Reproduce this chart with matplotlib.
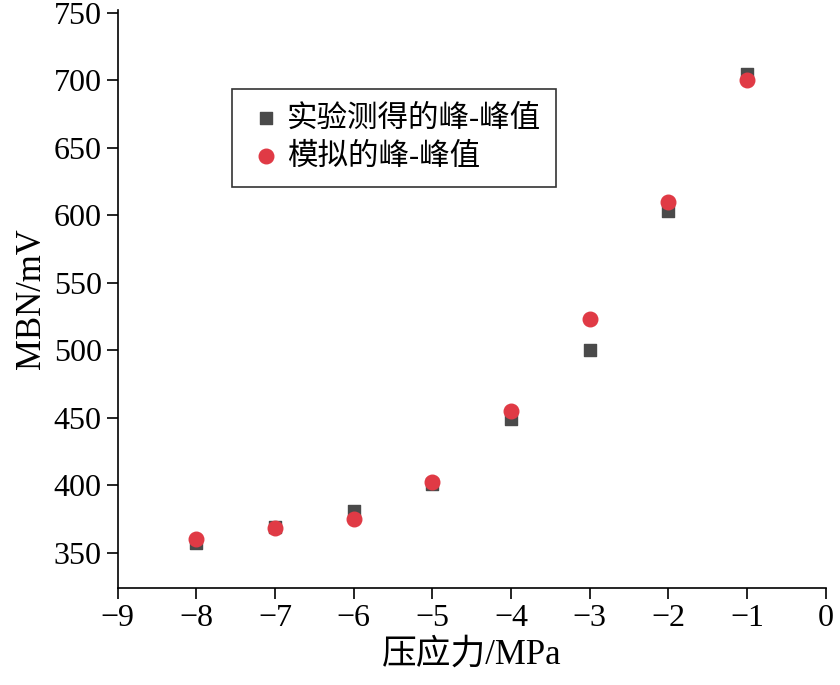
import matplotlib
matplotlib.use("Agg")
import matplotlib.pyplot as plt

plt.rcParams["font.family"] = ["Liberation Serif", "Noto Sans CJK SC"]

# data
pressure = [-8, -7, -6, -5, -4, -3, -2, -1]
measured = [357, 369, 381, 401, 449, 500, 603, 705]
simulated = [360, 368, 375, 402, 455, 523, 610, 700]

fig = plt.figure(figsize=(8.4, 6.85), dpi=100)
ax = fig.add_axes([0.140, 0.142, 0.843, 0.843])

ax.scatter(pressure, measured, marker="s", s=80, color="#4a4a4a", label="实验测得的峰-峰值", zorder=3)
ax.scatter(pressure, simulated, marker="o", s=110, color="#e03a45", label="模拟的峰-峰值", zorder=4)

ax.set_xlim(-9, 0)
ax.set_ylim(324, 752)
ax.set_xticks(range(-9, 1))
ax.set_xticklabels(["\u2212%d" % -v if v < 0 else "0" for v in range(-9, 1)])
ax.set_yticks(range(350, 751, 50))
ax.spines["top"].set_visible(False)
ax.spines["right"].set_visible(False)
ax.tick_params(labelsize=23, length=8, width=1.2)
for s in ax.spines.values():
    s.set_linewidth(1.2)

ax.set_xlabel("压应力/MPa", fontsize=25)
ax.set_ylabel("MBN/mV", fontsize=25)

leg = ax.legend(loc="upper left", bbox_to_anchor=(0.14, 0.89), fontsize=22,
                frameon=True, fancybox=False, edgecolor="black",
                handletextpad=0.1, handlelength=1.2, borderpad=0.5, labelspacing=0.3)
leg.get_frame().set_linewidth(1.2)

fig.savefig("out.png")
